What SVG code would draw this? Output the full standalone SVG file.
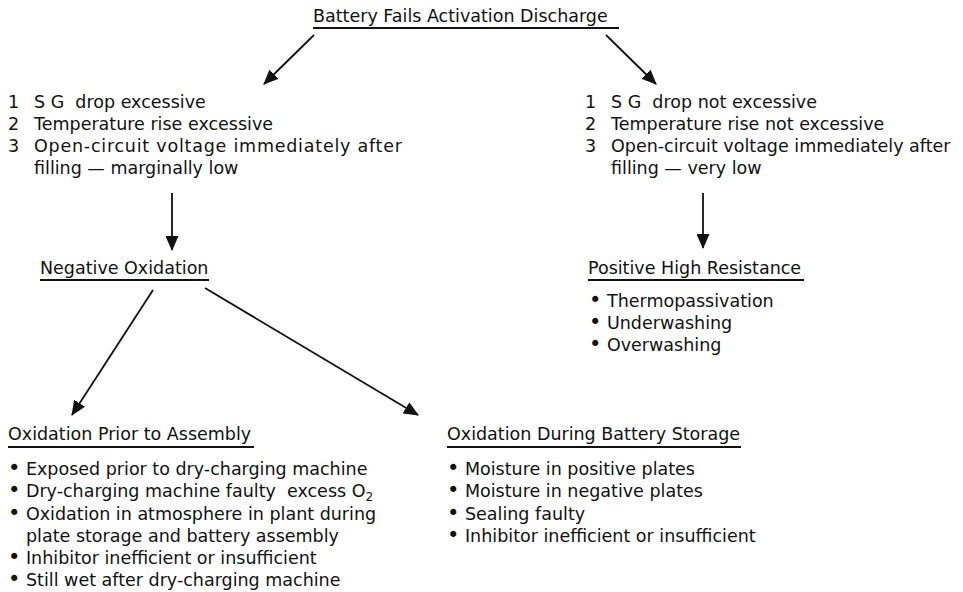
<svg xmlns="http://www.w3.org/2000/svg" width="963" height="592" viewBox="0 0 963 592">
<defs>
<marker id="ah" markerUnits="userSpaceOnUse" markerWidth="15" markerHeight="13" viewBox="0 0 15 13" refX="14" refY="6.5" orient="auto">
<path d="M0,0 L15,6.5 L0,13 z" fill="#111"/>
</marker>
</defs>
<style>
text { font-family: "DejaVu Sans", "Liberation Sans", sans-serif; font-size: 17.5px; fill: #111; }
.b { font-size: 21px; }
.ul { stroke: #111; stroke-width: 1.8; }
.conn line { stroke: #111; stroke-width: 1.8; marker-end: url(#ah); }
</style>
<rect width="963" height="592" fill="#fff"/>

<g id="title">
<text x="313" y="22">Battery Fails Activation Discharge</text>
<line class="ul" x1="313" y1="28" x2="619" y2="28"/>
</g>

<g id="left-symptoms">
<text x="8" y="108">1</text><text x="34" y="108" xml:space="preserve">S G  drop excessive</text>
<text x="8" y="130">2</text><text x="34" y="130">Temperature rise excessive</text>
<text x="8" y="152">3</text><text x="34" y="152" textLength="368" lengthAdjust="spacing">Open-circuit voltage immediately after</text>
<text x="34" y="174">filling — marginally low</text>
</g>

<g id="right-symptoms">
<text x="585" y="108">1</text><text x="611" y="108" xml:space="preserve">S G  drop not excessive</text>
<text x="585" y="130">2</text><text x="611" y="130">Temperature rise not excessive</text>
<text x="585" y="152">3</text><text x="611" y="152">Open-circuit voltage immediately after</text>
<text x="611" y="174">filling — very low</text>
</g>

<g id="negative-oxidation">
<text x="40" y="274">Negative Oxidation</text>
<line class="ul" x1="40" y1="280" x2="209" y2="280"/>
</g>

<g id="positive-high-resistance">
<text x="588" y="274">Positive High Resistance</text>
<line class="ul" x1="588" y1="280" x2="804" y2="280"/>
<text x="589" y="307"><tspan class="b">•</tspan> Thermopassivation</text>
<text x="589" y="329"><tspan class="b">•</tspan> Underwashing</text>
<text x="589" y="351"><tspan class="b">•</tspan> Overwashing</text>
</g>

<g id="oxidation-prior">
<text x="8" y="440">Oxidation Prior to Assembly</text>
<line class="ul" x1="8" y1="447" x2="254" y2="447"/>
<text x="8" y="475"><tspan class="b">•</tspan> Exposed prior to dry-charging machine</text>
<text x="8" y="497" xml:space="preserve"><tspan class="b">•</tspan> Dry-charging machine faulty  excess O<tspan font-size="12" dy="4">2</tspan></text>
<text x="8" y="520"><tspan class="b">•</tspan> Oxidation in atmosphere in plant during</text>
<text x="26" y="542">plate storage and battery assembly</text>
<text x="8" y="564"><tspan class="b">•</tspan> Inhibitor inefficient or insufficient</text>
<text x="8" y="586"><tspan class="b">•</tspan> Still wet after dry-charging machine</text>
</g>

<g id="oxidation-during">
<text x="447" y="440">Oxidation During Battery Storage</text>
<line class="ul" x1="447" y1="447" x2="741" y2="447"/>
<text x="447" y="475"><tspan class="b">•</tspan> Moisture in positive plates</text>
<text x="447" y="497"><tspan class="b">•</tspan> Moisture in negative plates</text>
<text x="447" y="520"><tspan class="b">•</tspan> Sealing faulty</text>
<text x="447" y="542"><tspan class="b">•</tspan> Inhibitor inefficient or insufficient</text>
</g>

<g id="connectors" class="conn">
<line x1="314" y1="35" x2="264" y2="84"/>
<line x1="606" y1="35" x2="656" y2="84"/>
<line x1="172" y1="193" x2="172" y2="250"/>
<line x1="703" y1="193" x2="703" y2="248"/>
<line x1="153" y1="290" x2="72" y2="415"/>
<line x1="205" y1="288" x2="418" y2="415"/>
</g>
</svg>
